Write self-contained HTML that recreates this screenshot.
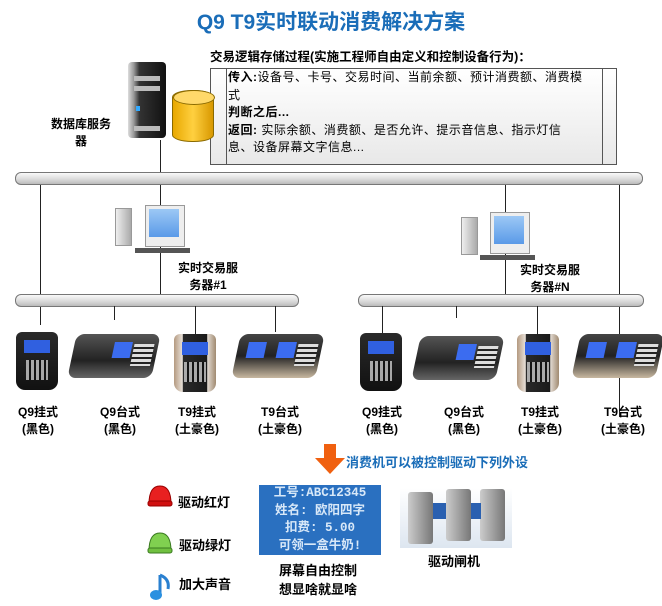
<!DOCTYPE html>
<html><head><meta charset="utf-8"><style>
body{margin:0;width:662px;height:606px;background:#fff;position:relative;overflow:hidden;font-family:"Liberation Sans","Noto Sans CJK SC",sans-serif}
.a{position:absolute}
.t{position:absolute;font-weight:bold;font-size:12px;color:#000;white-space:nowrap}
.bus{position:absolute;height:11px;border:1px solid #777;border-radius:6px;background:linear-gradient(#fafafa,#d8d8d8 60%,#bbb)}
.v{position:absolute;width:1px;background:#222}
.lbl{position:absolute;width:70px;text-align:center;font-size:12px;font-weight:bold;line-height:17px}
.wall{position:absolute;width:42px;height:58px;border-radius:6px 6px 9px 9px;background:linear-gradient(#2a2a2a,#111)}
.wall .s{position:absolute;left:8px;top:8px;width:26px;height:13px;background:#3060e0}
.wall .k{position:absolute;left:10px;top:28px;width:22px;height:20px;background:repeating-linear-gradient(90deg,#ccc 0 3px,transparent 3px 5px),#111;opacity:.8}
.gold{background:linear-gradient(90deg,#b49a80,#e8e0d8 20%,#2a2a2a 22%,#1a1a1a 78%,#e0d8d0 80%,#a08a70)}
.desk{position:absolute;width:84px;height:44px;transform:skewX(-12deg);border-radius:8px;background:linear-gradient(#555,#222 60%,#666)}
.desk .s{position:absolute;left:40px;top:8px;width:18px;height:16px;background:#3b6cf0}
.desk .k{position:absolute;left:60px;top:10px;width:20px;height:22px;background:repeating-linear-gradient(#ddd 0 3px,#222 3px 5px)}
</style></head><body>
<div class="a" style="left:0;width:662px;top:6px;text-align:center;font-size:21px;font-weight:bold;color:#1a6db8">Q9 T9实时联动消费解决方案</div>

<div class="t" style="left:210px;top:46px;font-size:12.5px">交易逻辑存储过程(实施工程师自由定义和控制设备行为)：</div>
<div class="a" style="left:210px;top:68px;width:405px;height:95px;border:1px solid #555;background:linear-gradient(#fff,#e8e8e8)"></div>
<div class="v" style="left:226px;top:68px;height:96px;background:#555"></div>
<div class="v" style="left:602px;top:68px;height:96px;background:#555"></div>
<div class="a" style="left:228px;top:69px;width:358px;font-size:12px;letter-spacing:0.5px;line-height:17.5px;color:#000"><b>传入:</b>设备号、卡号、交易时间、当前余额、预计消费额、消费模式<br><b>判断之后...</b><br><b>返回:</b> 实际余额、消费额、是否允许、提示音信息、指示灯信息、设备屏幕文字信息...</div>

<div class="a" style="left:128px;top:62px;width:38px;height:76px;border-radius:4px;background:linear-gradient(90deg,#ddd,#999 15%,#333 30%,#111)"></div>
<div class="a" style="left:134px;top:76px;width:26px;height:5px;background:#bbb"></div>
<div class="a" style="left:134px;top:86px;width:26px;height:5px;background:#bbb"></div>
<div class="a" style="left:136px;top:106px;width:4px;height:5px;background:#3af"></div>
<div class="a" style="left:134px;top:126px;width:26px;height:5px;background:#bbb"></div>
<div class="a" style="left:172px;top:90px;width:40px;height:50px;border:1px solid #8a6a00;border-radius:20px/7px;background:linear-gradient(90deg,#e8a800,#ffd040 50%,#d89800)"></div>
<div class="a" style="left:173px;top:90px;width:40px;height:13px;border-radius:50%;background:#ffd96a;border:1px solid #8a6a00"></div>
<div class="lbl" style="left:46px;top:116px">数据库服务<br>器</div>

<div class="v" style="left:160px;top:140px;height:155px"></div>
<div class="v" style="left:40px;top:185px;height:140px"></div>
<div class="v" style="left:505px;top:185px;height:110px"></div>
<div class="v" style="left:619px;top:185px;height:232px"></div>
<div class="bus" style="left:15px;top:172px;width:626px"></div>

<div class="a" style="left:115px;top:208px;width:15px;height:36px;background:linear-gradient(90deg,#eee,#aaa);border:1px solid #999"></div>
<div class="a" style="left:145px;top:205px;width:38px;height:40px;background:#eee;border:1px solid #999"></div>
<div class="a" style="left:149px;top:209px;width:30px;height:28px;background:linear-gradient(#9cc8f5,#5a9ae8)"></div>
<div class="a" style="left:135px;top:248px;width:55px;height:5px;background:#555"></div>
<div class="lbl" style="left:173px;top:260px">实时交易服<br>务器#1</div>

<div class="a" style="left:461px;top:217px;width:15px;height:36px;background:linear-gradient(90deg,#eee,#aaa);border:1px solid #999"></div>
<div class="a" style="left:490px;top:212px;width:38px;height:40px;background:#eee;border:1px solid #999"></div>
<div class="a" style="left:494px;top:216px;width:30px;height:28px;background:linear-gradient(#9cc8f5,#5a9ae8)"></div>
<div class="a" style="left:480px;top:255px;width:55px;height:5px;background:#555"></div>
<div class="lbl" style="left:515px;top:262px">实时交易服<br>务器#N</div>

<div class="bus" style="left:15px;top:294px;width:282px"></div>
<div class="bus" style="left:358px;top:294px;width:284px"></div>
<div class="v" style="left:114px;top:306px;height:14px"></div>
<div class="v" style="left:195px;top:306px;height:32px"></div>
<div class="v" style="left:275px;top:306px;height:26px"></div>
<div class="v" style="left:382px;top:306px;height:30px"></div>
<div class="v" style="left:456px;top:306px;height:12px"></div>
<div class="v" style="left:537px;top:306px;height:30px"></div>

<div class="wall" style="left:16px;top:332px"><div class="s"></div><div class="k"></div></div>
<div class="desk" style="left:72px;top:334px"><div class="s"></div><div class="k"></div></div>
<div class="wall gold" style="left:174px;top:334px"><div class="s"></div><div class="k"></div></div>
<div class="desk" style="left:236px;top:334px;background:linear-gradient(#444,#222 50%,#c8b8a0)"><div class="s" style="left:10px"></div><div class="s"></div><div class="k"></div></div>
<div class="wall" style="left:360px;top:333px"><div class="s"></div><div class="k"></div></div>
<div class="desk" style="left:416px;top:336px"><div class="s"></div><div class="k"></div></div>
<div class="wall gold" style="left:517px;top:334px"><div class="s"></div><div class="k"></div></div>
<div class="desk" style="left:576px;top:334px;background:linear-gradient(#444,#222 50%,#c8b8a0)"><div class="s" style="left:10px"></div><div class="s"></div><div class="k"></div></div>

<div class="lbl" style="left:3px;top:404px">Q9挂式<br>(黑色)</div>
<div class="lbl" style="left:85px;top:404px">Q9台式<br>(黑色)</div>
<div class="lbl" style="left:162px;top:404px">T9挂式<br>(土豪色)</div>
<div class="lbl" style="left:245px;top:404px">T9台式<br>(土豪色)</div>
<div class="lbl" style="left:347px;top:404px">Q9挂式<br>(黑色)</div>
<div class="lbl" style="left:429px;top:404px">Q9台式<br>(黑色)</div>
<div class="lbl" style="left:505px;top:404px">T9挂式<br>(土豪色)</div>
<div class="lbl" style="left:588px;top:404px">T9台式<br>(土豪色)</div>

<svg class="a" style="left:315px;top:444px" width="32" height="32"><polygon points="9,0 21,0 21,14 30,14 15,30 0,14 9,14" fill="#f06010"/></svg>
<div class="t" style="left:346px;top:452px;font-size:13px;color:#1a6db8">消费机可以被控制驱动下列外设</div>

<svg class="a" style="left:147px;top:484px" width="26" height="24"><path d="M2,20 Q2,2 13,2 Q24,2 24,20 Z" fill="#e82020" stroke="#900"/><rect x="1" y="17" width="24" height="5" rx="2" fill="#d01010" stroke="#900"/></svg>
<div class="t" style="left:178px;top:492px;font-size:13px">驱动红灯</div>
<svg class="a" style="left:147px;top:531px" width="26" height="24"><path d="M2,20 Q2,2 13,2 Q24,2 24,20 Z" fill="#80d050" stroke="#3a7a20"/><rect x="1" y="17" width="24" height="5" rx="2" fill="#70c040" stroke="#3a7a20"/></svg>
<div class="t" style="left:179px;top:535px;font-size:13px">驱动绿灯</div>
<svg class="a" style="left:148px;top:573px" width="24" height="30"><path d="M12,2 L12,20" stroke="#2a80d0" stroke-width="3"/><ellipse cx="8" cy="22" rx="6" ry="5" fill="#2a90e0"/><path d="M12,2 Q22,6 20,16" stroke="#2a80d0" stroke-width="3" fill="none"/></svg>
<div class="t" style="left:179px;top:574px;font-size:13px">加大声音</div>

<div class="a" style="left:259px;top:485px;width:122px;height:70px;background:#2a70c0;color:#d8e8f8;font-size:12.5px;font-weight:bold;text-align:center;line-height:17.5px;font-family:'Liberation Mono','Noto Sans CJK SC',monospace">工号:ABC12345<br>姓名: 欧阳四字<br>扣费: 5.00<br>可领一盒牛奶!</div>
<div class="lbl" style="left:278px;top:561px;width:80px;font-size:13px;line-height:19px">屏幕自由控制<br>想显啥就显啥</div>

<div class="a" style="left:400px;top:488px;width:112px;height:60px;background:linear-gradient(#fff,#dde6f0)"></div>
<div class="a" style="left:408px;top:492px;width:25px;height:52px;background:linear-gradient(90deg,#ccc,#777);border-radius:3px"></div>
<div class="a" style="left:446px;top:489px;width:25px;height:52px;background:linear-gradient(90deg,#ccc,#777);border-radius:3px"></div>
<div class="a" style="left:480px;top:489px;width:25px;height:52px;background:linear-gradient(90deg,#ccc,#777);border-radius:3px"></div>
<div class="a" style="left:433px;top:503px;width:13px;height:16px;background:#2a60b0"></div>
<div class="a" style="left:471px;top:503px;width:10px;height:16px;background:#2a60b0"></div>
<div class="t" style="left:428px;top:551px;font-size:13px">驱动闸机</div>
</body></html>
